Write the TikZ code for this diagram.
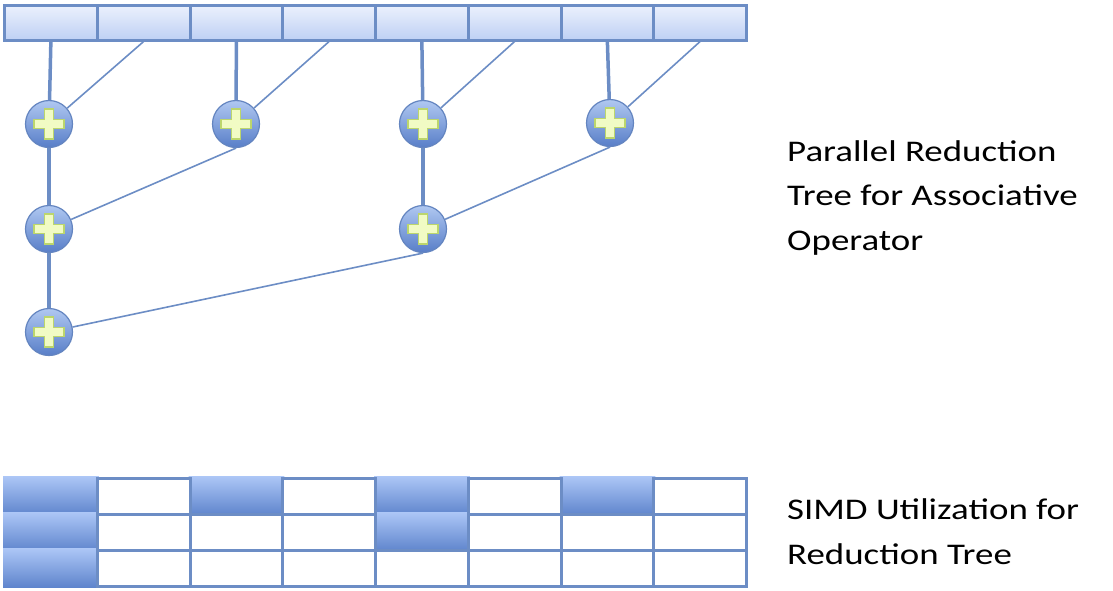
\documentclass[tikz,border=0pt]{standalone}
\usepackage{fontspec}
\setmainfont{Carlito}
\newfontfamily\labelfont{Carlito}[FakeStretch=1.23]
\usetikzlibrary{shadings}
\definecolor{lc}{RGB}{108,141,197}
\definecolor{celltop}{RGB}{236,241,253}
\definecolor{cellbot}{RGB}{190,208,244}
\definecolor{circtop}{RGB}{176,200,241}
\definecolor{circbot}{RGB}{88,126,200}
\definecolor{circedge}{RGB}{100,133,192}
\definecolor{plusfill}{RGB}{241,251,196}
\definecolor{plusedge}{RGB}{188,214,108}
\definecolor{filltop}{RGB}{172,198,246}
\definecolor{fillbot}{RGB}{94,132,204}
\tikzset{
  topcell/.style={draw=lc, line width=3pt, minimum width=92.75pt, minimum height=35pt, inner sep=0pt,
    top color=celltop, bottom color=cellbot},
  emptycell/.style={draw=lc, line width=3pt, minimum width=92.75pt, minimum height=36pt, inner sep=0pt, fill=white},
  usedcell/.style={draw=none, minimum width=95.75pt, minimum height=39pt, inner sep=0pt,
    top color=filltop, bottom color=fillbot},
  adder/.style={circle, minimum size=47pt, inner sep=0pt, draw=circedge, line width=1.2pt,
    top color=circtop, bottom color=circbot,
    path picture={\filldraw[fill=plusfill, draw=plusedge, line width=1.2pt]
      (path picture bounding box.center) ++(-15,-4.5) -- ++(10.5,0) -- ++(0,-10.5) -- ++(9,0) -- ++(0,10.5)
      -- ++(10.5,0) -- ++(0,9) -- ++(-10.5,0) -- ++(0,10.5) -- ++(-9,0) -- ++(0,-10.5) -- ++(-10.5,0) -- cycle;}},
  thickline/.style={draw=lc, line width=3.5pt},
  thinline/.style={draw=lc, line width=1.6pt},
  label/.style={align=left, anchor=base west, inner sep=0pt, font=\labelfont\fontsize{30}{44.5}\selectfont}
}
\begin{document}
\begin{tikzpicture}[x=1pt,y=-1pt]
\useasboundingbox (0,0) rectangle (1113,590);
% top array
\foreach \j in {1,...,8} {
  \node[topcell] (c\j) at ({4.5+92.75*(\j-0.5)},22.5) {};
}
% adders
\node[adder] (p1) at (49,124) {};
\node[adder] (p2) at (236,124) {};
\node[adder] (p3) at (423,124) {};
\node[adder] (p4) at (610,123) {};
\node[adder] (q1) at (49,229) {};
\node[adder] (q2) at (423,229) {};
\node[adder] (r1) at (49,332) {};
% connectors
\draw[thickline] (c1.south) -- (p1);
\draw[thinline] (c2.south) -- (p1);
\draw[thickline] (c3.south) -- (p2);
\draw[thinline] (c4.south) -- (p2);
\draw[thickline] (c5.south) -- (p3);
\draw[thinline] (c6.south) -- (p3);
\draw[thickline] (c7.south) -- (p4);
\draw[thinline] (c8.south) -- (p4);
\draw[thickline] (p1) -- (q1);
\draw[thinline] (p2.south) -- (q1);
\draw[thickline] (p3) -- (q2);
\draw[thinline] (p4.south) -- (q2);
\draw[thickline] (q1) -- (r1);
\draw[thinline] (q2.south) -- (r1);
% SIMD grid: used lanes
\foreach \r/\j in {1/1,1/3,1/5,1/7,2/1,2/5,3/1} {
  \node[usedcell] (u\r\j) at ({4.5+92.75*(\j-0.5)},{460+36*\r}) {};
}
% idle lanes
\foreach \r/\j in {1/2,1/4,1/6,1/8,2/2,2/3,2/4,2/6,2/7,2/8,3/2,3/3,3/4,3/5,3/6,3/7,3/8} {
  \node[emptycell] (e\r\j) at ({4.5+92.75*(\j-0.5)},{460+36*\r}) {};
}
% labels (anchor = baseline of last line)
\node[label] (t1) at (787,250) {Parallel Reduction\\Tree for Associative\\Operator};
\node[label] (t2) at (787,564) {SIMD Utilization for\\Reduction Tree};
\end{tikzpicture}
\end{document}
